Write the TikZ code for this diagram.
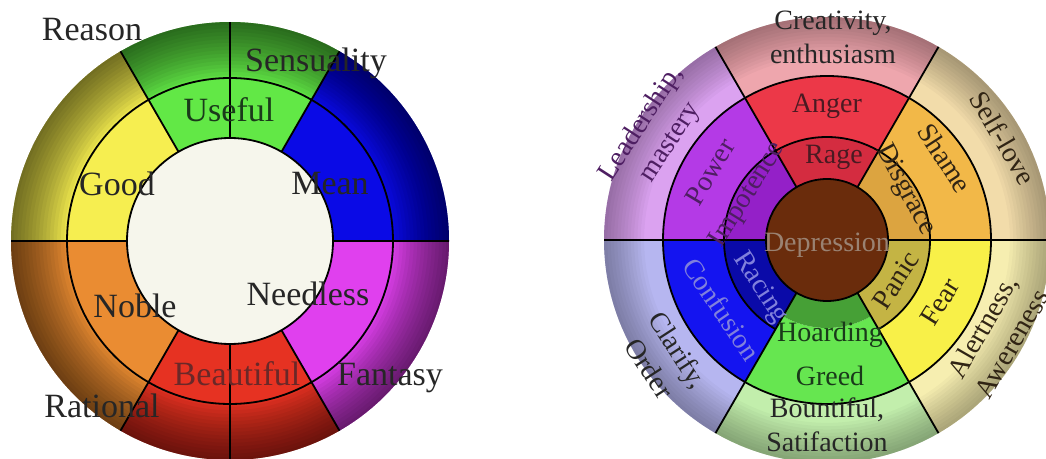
\documentclass[tikz,border=0pt]{standalone}
\usepackage{fontspec}
\setmainfont{Liberation Serif}
% left wheel colours
\definecolor{lYel}{HTML}{F6EE50}
\definecolor{lGrn}{HTML}{62E846}
\definecolor{lBlu}{HTML}{0A0AE6}
\definecolor{lMag}{HTML}{E040EE}
\definecolor{lRed}{HTML}{E63222}
\definecolor{lOra}{HTML}{EA8C32}
\definecolor{lCen}{HTML}{F6F6EC}
% right wheel colours
\definecolor{rPinkO}{HTML}{EEA6AD}
\definecolor{rAnger}{HTML}{EC3848}
\definecolor{rRage}{HTML}{D42C40}
\definecolor{rLeadO}{HTML}{DBA2F0}
\definecolor{rPower}{HTML}{B43AE6}
\definecolor{rImpot}{HTML}{9420C8}
\definecolor{rClarO}{HTML}{B6B6F0}
\definecolor{rConf}{HTML}{1414F0}
\definecolor{rRacing}{HTML}{0A0AA8}
\definecolor{rBounO}{HTML}{C2EEAC}
\definecolor{rGreed}{HTML}{66E650}
\definecolor{rHoard}{HTML}{46A036}
\definecolor{rAlertO}{HTML}{F6EEB0}
\definecolor{rFear}{HTML}{F8F048}
\definecolor{rPanic}{HTML}{C4B444}
\definecolor{rSelfO}{HTML}{F2DCAA}
\definecolor{rShame}{HTML}{F2B848}
\definecolor{rDisg}{HTML}{DCA440}
\definecolor{rDep}{HTML}{6A2C0C}
% text colours
\definecolor{tDark}{HTML}{262626}
\definecolor{tMaroon}{HTML}{6A2828}
\definecolor{tRed}{HTML}{4A1A22}
\definecolor{tPurp}{HTML}{4E1E62}
\definecolor{tBlue}{HTML}{8080DC}
\definecolor{tBrown}{HTML}{9A8272}
\definecolor{tGreen}{HTML}{1A3A1A}
\definecolor{tOch}{HTML}{302414}
\newcommand\annsec[6]{\fill[#1,shift={(#2)}] (#3:#5) arc[start angle=#3,end angle=#4,radius=#5] -- (#4:#6) arc[start angle=#4,end angle=#3,radius=#6] -- cycle;}
\begin{document}
\begin{tikzpicture}[x=1pt,y=1pt,
  ln/.style={line width=1.8pt, black},
  ll/.style={font=\fontsize{34}{36}\selectfont, text=tDark, inner sep=0pt},
  rl/.style={font=\fontsize{28}{34}\selectfont, text=tDark, inner sep=0pt, align=center}]
\clip (0,0) rectangle (1046,458);
\fill[white] (0,0) rectangle (1046,458);
\coordinate (C1) at (230,217);
\coordinate (C2) at (827,218);
% ---------------- left wheel ----------------
\annsec{lBlu}{C1}{0}{60}{0}{219}
\annsec{lGrn}{C1}{60}{120}{0}{219}
\annsec{lYel}{C1}{120}{180}{0}{219}
\annsec{lOra}{C1}{180}{240}{0}{219}
\annsec{lRed}{C1}{240}{300}{0}{219}
\annsec{lMag}{C1}{300}{360}{0}{219}
\foreach \k in {0,...,15}{
  \pgfmathsetmacro\rr{219*(0.74+0.0165*\k)}
  \fill[black, opacity=0.045, even odd rule] (C1) circle[radius=219] (C1) circle[radius=\rr];}
\fill[lCen] (C1) circle[radius=103];
\draw[ln] (C1) circle[radius=103];
\draw[ln] (C1) circle[radius=163];
\foreach \a in {0,60,90,120,180,240,270,300}
  \draw[ln, shift={(C1)}] (\a:103) -- (\a:219);
% ---------------- right wheel ----------------
\annsec{rPinkO}{C2}{60}{120}{164}{223}
\annsec{rAnger}{C2}{60}{120}{103}{164}
\annsec{rRage}{C2}{60}{120}{0}{103}
\annsec{rLeadO}{C2}{120}{180}{164}{223}
\annsec{rPower}{C2}{120}{180}{103}{164}
\annsec{rImpot}{C2}{120}{180}{0}{103}
\annsec{rClarO}{C2}{180}{240}{164}{223}
\annsec{rConf}{C2}{180}{240}{103}{164}
\annsec{rRacing}{C2}{180}{240}{0}{103}
\annsec{rBounO}{C2}{240}{300}{164}{223}
\annsec{rGreed}{C2}{240}{300}{88}{164}
\annsec{rHoard}{C2}{240}{300}{0}{88}
\annsec{rAlertO}{C2}{300}{360}{164}{223}
\annsec{rFear}{C2}{300}{360}{103}{164}
\annsec{rPanic}{C2}{300}{360}{0}{103}
\annsec{rSelfO}{C2}{0}{60}{164}{223}
\annsec{rShame}{C2}{0}{60}{103}{164}
\annsec{rDisg}{C2}{0}{60}{0}{103}
\foreach \k in {0,...,11}{
  \pgfmathsetmacro\rr{223*(0.82+0.015*\k)}
  \fill[black, opacity=0.026, even odd rule] (C2) circle[radius=223] (C2) circle[radius=\rr];}
\fill[rDep] (C2) circle[radius=61];
\draw[ln] (C2) circle[radius=61];
\draw[ln] (C2) circle[radius=164];
\draw[ln, shift={(C2)}] (-60:103) arc[start angle=-60, end angle=240, radius=103];
\foreach \a in {0,60,...,300}
  \draw[ln, shift={(C2)}] (\a:61) -- (\a:223);
% ---------------- left labels ----------------
\node[ll] (reason) at (92,428) {Reason};
\node[ll] (sensuality) at (316,395) {Sensuality};
\node[ll, text=tGreen] (useful) at (229,348) {Useful};
\node[ll] (good) at (117,274) {Good};
\node[ll] (mean) at (330,274) {Mean};
\node[ll] (noble) at (135,152) {Noble};
\node[ll] (needless) at (308,164) {Needless};
\node[ll, text=tMaroon] (beautiful) at (237,84) {Beautiful};
\node[ll] (fantasy) at (390,80) {Fantasy};
\node[ll] (rational) at (102,52) {Rational};
% ---------------- right labels ----------------
\node[rl] (creativity) at (833,421) {Creativity,\\enthusiasm};
\node[rl, text=tRed] (anger) at (827,352) {Anger};
\node[rl, text=tRed] (rage) at (834,301) {Rage};
\node[rl, text=tOch, rotate=-57] (shame) at (945,300) {Shame};
\node[rl, text=tOch, rotate=-60] (selflove) at (1003,320) {Self-love};
\node[rl, text=tOch, rotate=-62] (disgrace) at (905,268) {Disgrace};
\node[rl, text=tOch, rotate=57] (panic) at (896,178) {Panic};
\node[rl, text=tOch, rotate=58] (fear) at (940,156) {Fear};
\node[rl, text=tOch, rotate=60] (alert) at (997,123) {Alertness,\\Awereness};
\node[rl, text=tBrown] (depression) at (827,213) {Depression};
\node[rl, text=tGreen] (hoarding) at (830,123) {Hoarding};
\node[rl, text=tGreen] (greed) at (830,82) {Greed};
\node[rl] (bountiful) at (827,33) {Bountiful,\\Satifaction};
\node[rl, rotate=-57] (clarify) at (664,99) {Clarify,\\Order};
\node[rl, text=tBlue, rotate=-56] (confusion) at (722,149) {Confusion};
\node[rl, text=tBlue, rotate=-57] (racing) at (760,170) {Racing};
\node[rl, text=tPurp, rotate=58] (impotence) at (748,263) {Impotence};
\node[rl, text=tPurp, rotate=59] (power) at (710,286) {Power};
\node[rl, text=tPurp, rotate=57] (leadership) at (656,325) {Leadership,\\mastery};
\end{tikzpicture}
\end{document}
